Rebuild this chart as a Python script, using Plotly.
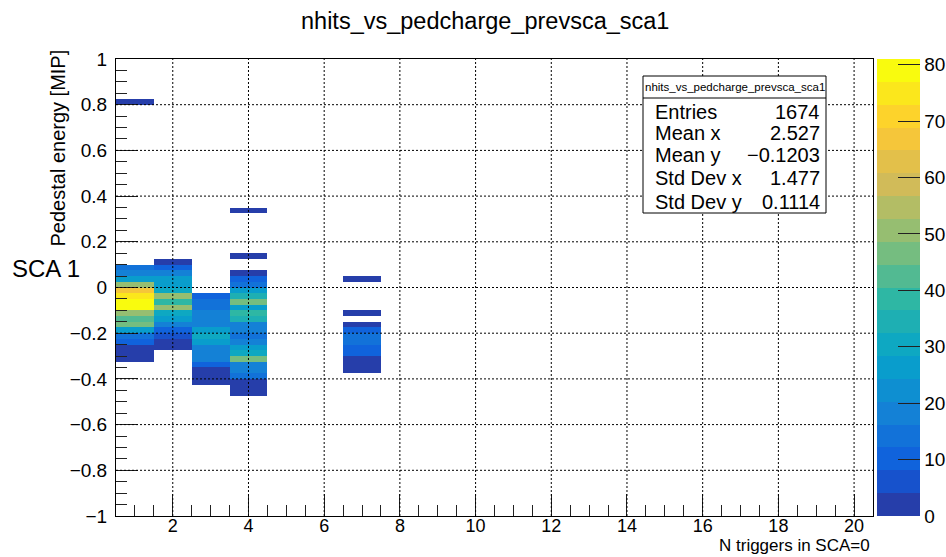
import numpy as np
import plotly.graph_objects as go

# ---------------------------------------------------------------------------
# Histogram definition: 20 x-bins on [0.5, 20.5], 80 y-bins on [-1, 1]
# ---------------------------------------------------------------------------
X_MIN, X_MAX, NX = 0.5, 20.5, 20
Y_MIN, Y_MAX, NY = -1.0, 1.0, 80

# Filled bins of each N-triggers column, listed from the lowest y-bin upward,
# starting at the given lower bin edge.
col1_x, col1_ylow = 1, -0.325
col1_counts = [2, 1, 1, 10, 14, 25, 45, 41, 49, 77, 81, 73, 65, 49, 25, 17, 13]

col2_x, col2_ylow = 2, -0.275
col2_counts = [1, 1, 5, 9, 17, 25, 29, 49, 37, 49, 29, 25, 25, 17, 9, 1]

col3_x, col3_ylow = 3, -0.425
col3_counts = [1, 1, 1, 9, 17, 17, 17, 25, 29, 25, 17, 17, 17, 13, 13, 9]

col4_x, col4_ylow = 4, -0.475
col4_counts = [2, 2, 3, 15, 19, 18, 47, 31, 27, 17, 15, 18, 19, 35, 39, 26,
               46, 34, 26, 14, 10, 2]

col7_x, col7_ylow = 7, -0.375
col7_counts = [1, 1, 2, 10, 9, 13, 14, 9, 1]

# Isolated single bins: x, y (bin centre), content
single_x = [1, 4, 4, 7, 7]
single_y = [0.8125, 0.3375, 0.1375, 0.0375, -0.1125]
single_n = [1, 1, 1, 1, 1]

# Statistics box contents
stats_title = "nhits_vs_pedcharge_prevsca_sca1"
stats_labels = ["Entries", "Mean x", "Mean y", "Std Dev x", "Std Dev y"]
stats_values = ["1674", "2.527", "\u22120.1203", "1.477", "0.1114"]

# ---------------------------------------------------------------------------
# Fill the 2D grid
# ---------------------------------------------------------------------------
dy = (Y_MAX - Y_MIN) / NY
dx = (X_MAX - X_MIN) / NX
x_centers = X_MIN + dx * (np.arange(NX) + 0.5)
y_centers = Y_MIN + dy * (np.arange(NY) + 0.5)
z = np.full((NY, NX), np.nan)


def ybin(yval):
    return int(np.floor((yval - Y_MIN) / dy + 1e-6))


def xbin(xval):
    return int(np.floor((xval - X_MIN) / dx + 1e-6))


for cx, ylow, counts in [(col1_x, col1_ylow, col1_counts),
                         (col2_x, col2_ylow, col2_counts),
                         (col3_x, col3_ylow, col3_counts),
                         (col4_x, col4_ylow, col4_counts),
                         (col7_x, col7_ylow, col7_counts)]:
    i0 = ybin(ylow)
    for k, c in enumerate(counts):
        z[i0 + k, xbin(cx)] = c

for sx, sy, sn in zip(single_x, single_y, single_n):
    z[ybin(sy), xbin(sx)] = sn

z_max = float(np.nanmax(z))

# ---------------------------------------------------------------------------
# kBird palette, 20 contour levels
# ---------------------------------------------------------------------------
bird_stops = [0.0, 0.125, 0.25, 0.375, 0.5, 0.625, 0.75, 0.875, 1.0]
bird_r = [0.2082, 0.0592, 0.0780, 0.0232, 0.1802, 0.5301, 0.8186, 0.9956, 0.9764]
bird_g = [0.1664, 0.3599, 0.5041, 0.6419, 0.7178, 0.7492, 0.7328, 0.7862, 0.9832]
bird_b = [0.5293, 0.8684, 0.8385, 0.7914, 0.6425, 0.4662, 0.3499, 0.1968, 0.0539]
n_levels = 20


def bird(f):
    r = np.interp(f, bird_stops, bird_r)
    g = np.interp(f, bird_stops, bird_g)
    b = np.interp(f, bird_stops, bird_b)
    return "rgb(%d,%d,%d)" % (round(r * 255), round(g * 255), round(b * 255))


colorscale = []
for i in range(n_levels):
    c = bird((i + 1) / n_levels)
    colorscale.append([i / n_levels, c])
    colorscale.append([(i + 1) / n_levels, c])

# ---------------------------------------------------------------------------
# Figure
# ---------------------------------------------------------------------------
W, H = 946, 557
L, R, T, B = 116, 73, 59, 41
pw, ph = W - L - R, H - T - B


def px_x(p):
    return (p - L) / pw


def px_y(p):
    return (H - B - p) / ph


FONT = "Liberation Sans, Arial, Helvetica, sans-serif"

fig = go.Figure()
fig.add_trace(go.Heatmap(
    x=x_centers, y=y_centers, z=z,
    zmin=0, zmax=z_max,
    colorscale=colorscale,
    hoverongaps=False,
    colorbar=dict(
        x=px_x(877), xanchor="left", xpad=0,
        y=0.5, yanchor="middle", len=1, lenmode="fraction", ypad=0,
        thickness=43, outlinewidth=0,
        tickmode="array", tickvals=list(range(0, 81, 10)),
        ticks="inside", ticklen=22, tickcolor="#222", tickwidth=1,
        tickfont=dict(family=FONT, size=19, color="black"),
    ),
))

tick_col = "#222"
fig.update_xaxes(
    range=[X_MIN, X_MAX], tick0=0, dtick=2,
    ticks="inside", ticklen=22, tickcolor=tick_col, tickwidth=1,
    minor=dict(tick0=0, dtick=0.5, ticks="inside", ticklen=11,
               tickcolor=tick_col, tickwidth=1, showgrid=False),
    showgrid=False, zeroline=False,
    showline=True, linecolor="black", linewidth=1, mirror=True,
    tickfont=dict(family=FONT, size=18, color="black"),
    ticklabelstandoff=-7,
)
fig.update_yaxes(
    range=[Y_MIN, Y_MAX], tick0=0, dtick=0.2,
    ticks="inside", ticklen=22, tickcolor=tick_col, tickwidth=1,
    minor=dict(tick0=0, dtick=0.05, ticks="inside", ticklen=11,
               tickcolor=tick_col, tickwidth=1, showgrid=False),
    showgrid=False, zeroline=False,
    showline=True, linecolor="black", linewidth=1, mirror=True,
    tickfont=dict(family=FONT, size=19, color="black"),
    ticklabelstandoff=4,
)

# Dotted grid drawn over the histogram cells
shapes = []
grid_style = dict(color="black", width=1, dash="2px,2px")
for gx in np.arange(2, X_MAX, 2):
    shapes.append(dict(type="line", xref="x", yref="paper", x0=gx, x1=gx,
                       y0=0, y1=1, line=grid_style, layer="above"))
for gy in np.arange(-0.8, 0.81, 0.2):
    shapes.append(dict(type="line", xref="paper", yref="y", x0=0, x1=1,
                       y0=gy, y1=gy, line=grid_style, layer="above"))

# Statistics box
sb_x0, sb_x1 = px_x(643), px_x(826)
sb_y0, sb_y1 = px_y(213), px_y(76)
shapes.append(dict(type="rect", xref="paper", yref="paper",
                   x0=sb_x0, x1=sb_x1, y0=sb_y0, y1=sb_y1,
                   fillcolor="white", line=dict(color="black", width=1),
                   layer="above"))
shapes.append(dict(type="line", xref="paper", yref="paper",
                   x0=sb_x0, x1=sb_x1, y0=px_y(98), y1=px_y(98),
                   line=dict(color="black", width=1), layer="above"))

annotations = []
annotations.append(dict(text=stats_title, xref="paper", yref="paper",
                        x=(sb_x0 + sb_x1) / 2, y=px_y(87),
                        xanchor="center", yanchor="middle", showarrow=False,
                        font=dict(family=FONT, size=11.5, color="black")))
row_px = [112, 133, 155, 178, 202]
for lab, val, rp in zip(stats_labels, stats_values, row_px):
    annotations.append(dict(text=lab, xref="paper", yref="paper",
                            x=px_x(653), y=px_y(rp), xanchor="left",
                            yanchor="middle", showarrow=False,
                            font=dict(family=FONT, size=20, color="black")))
    annotations.append(dict(text=val, xref="paper", yref="paper",
                            x=px_x(822), y=px_y(rp), xanchor="right",
                            yanchor="middle", showarrow=False,
                            font=dict(family=FONT, size=20, color="black")))

# Title, axis titles and side label
annotations.append(dict(text="nhits_vs_pedcharge_prevsca_sca1",
                        xref="paper", yref="paper", x=px_x(484.5), y=px_y(21),
                        xanchor="center", yanchor="middle", showarrow=False,
                        font=dict(family=FONT, size=23.5, color="black")))
annotations.append(dict(text="Pedestal energy [MIP]", xref="paper",
                        yref="paper", x=px_x(58), y=px_y(48),
                        xanchor="center", yanchor="top", textangle=-90,
                        showarrow=False,
                        font=dict(family=FONT, size=20, color="black")))
annotations.append(dict(text="N triggers in SCA=0", xref="paper",
                        yref="paper", x=px_x(872), y=px_y(557),
                        xanchor="right", yanchor="bottom", showarrow=False,
                        font=dict(family=FONT, size=17, color="black")))
annotations.append(dict(text="SCA 1", xref="paper", yref="paper",
                        x=px_x(46), y=px_y(268), xanchor="center",
                        yanchor="middle", showarrow=False,
                        font=dict(family=FONT, size=24, color="black")))

fig.update_layout(
    width=W, height=H, autosize=False,
    margin=dict(l=L, r=R, t=T, b=B, pad=0, autoexpand=False),
    paper_bgcolor="white", plot_bgcolor="white",
    shapes=shapes, annotations=annotations,
    showlegend=False,
)

fig.write_html("out.html")
